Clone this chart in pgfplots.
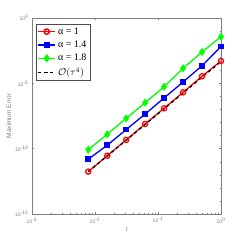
\documentclass[border=0pt]{standalone}
\usepackage{pgfplots}
\pgfplotsset{compat=1.18}
\usepackage{fontspec}
\setmainfont{Liberation Sans}
\newfontfamily\lserif{Liberation Serif}
\definecolor{axgray}{gray}{0.5}
\definecolor{mygreen}{RGB}{0,255,0}
\begin{document}
\begin{tikzpicture}
\begin{axis}[
  name=ax,
  scale only axis,
  width=189pt, height=196pt,
  xmode=log, ymode=log,
  xmin=1e-3, xmax=1, ymin=1e-15, ymax=1,
  xtick={1e-3,1e-2,1e-1,1},
  xticklabels={10\textsuperscript{-3},10\textsuperscript{-2},10\textsuperscript{-1},10\textsuperscript{0}},
  ytick={1e-15,1e-10,1e-5,1},
  yticklabels={10\textsuperscript{-15},10\textsuperscript{-10},10\textsuperscript{-5},10\textsuperscript{0}},
  minor ytick={1e-14,1e-13,1e-12,1e-11,1e-9,1e-8,1e-7,1e-6,1e-4,1e-3,1e-2,1e-1},
  tick label style={font=\fontsize{5}{6}\selectfont, text=axgray},
  axis line style={axgray},
  every tick/.style={axgray},
  major tick length=2.5pt, minor tick length=1.5pt,
  xlabel={\itshape τ},
  ylabel={Maximum Error},
  label style={font=\fontsize{6.5}{7}\selectfont, text=axgray},
  xlabel style={yshift=2pt},
  ylabel style={yshift=-3pt},
  legend style={at={(0.02,0.97)}, anchor=north west, draw=black!70, font=\lserif\fontsize{10}{11}\selectfont, row sep=1.2pt, inner sep=1.5pt},
  legend image post style={line width=1.5pt},
  legend cell align=left,
]
\addplot[red, line width=1.3pt, mark=o, mark size=2.6pt, mark options={solid, fill=white}] coordinates {
(0.0078125,1.74e-12) (0.015625,2.88e-11) (0.03125,4.68e-10) (0.0625,7.76e-9) (0.125,1.23e-7) (0.25,2.04e-6) (0.5,3.47e-5) (1,5.13e-4)};
\addlegendentry{α = 1}
\addplot[blue, line width=1.3pt, mark=square*, mark size=2.2pt] coordinates {
(0.0078125,1.55e-11) (0.015625,1.82e-10) (0.03125,2.88e-9) (0.0625,4.47e-8) (0.125,7.59e-7) (0.25,1.26e-5) (0.5,2.24e-4) (1,6.46e-3)};
\addlegendentry{α = 1.4}
\addplot[mygreen, line width=1.3pt, mark=diamond*, mark size=3pt] coordinates {
(0.0078125,8.3e-11) (0.015625,1.26e-9) (0.03125,2.09e-8) (0.0625,3.31e-7) (0.125,5.5e-6) (0.25,1.41e-4) (0.5,2.51e-3) (1,3.72e-2)};
\addlegendentry{α = 1.8}
\addplot[black, line width=1.3pt, dashed] coordinates {
(0.0078125,1.74e-12) (0.015625,2.78e-11) (0.03125,4.45e-10) (0.0625,7.13e-9) (0.125,1.14e-7) (0.25,1.82e-6) (0.5,2.92e-5) (1,4.67e-4)};
\addlegendentry{$\mathcal{O}(\tau^4)$}
\end{axis}
\path ([shift={(-32pt,-31pt)}]ax.south west) rectangle ([shift={(24pt,18pt)}]ax.north east);
\end{tikzpicture}
\end{document}
